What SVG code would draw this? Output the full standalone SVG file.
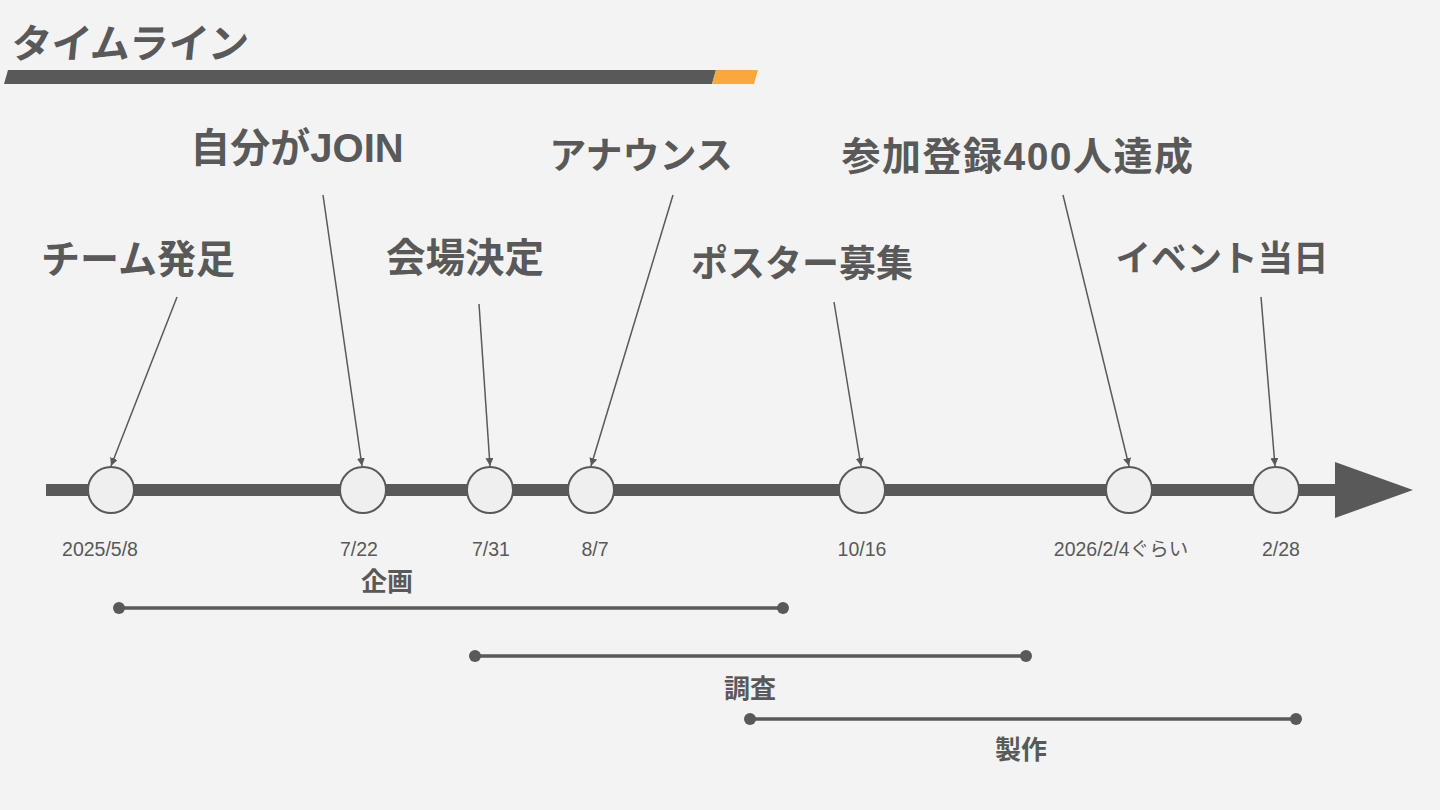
<svg xmlns="http://www.w3.org/2000/svg" width="1440" height="810" viewBox="0 0 1440 810">
<defs>
<marker id="ah" viewBox="0 0 10 10" refX="10" refY="5" markerWidth="8" markerHeight="8" markerUnits="userSpaceOnUse" orient="auto"><path d="M0,0 L10,5 L0,10 z" fill="#595959"/></marker>
<style>
.ev{font-family:"Liberation Sans","Noto Sans CJK JP",sans-serif;font-weight:bold;font-size:37px;fill:#595959;text-anchor:middle}
.dt{font-family:"Liberation Sans","Noto Sans CJK JP",sans-serif;font-size:19.5px;fill:#595959;text-anchor:middle}
.ph{font-family:"Liberation Sans","Noto Sans CJK JP",sans-serif;font-weight:bold;font-size:26px;fill:#595959;text-anchor:middle}
.node{fill:#efefef;stroke:#595959;stroke-width:2}
.pt{stroke:#595959;stroke-width:1.5;fill:none;marker-end:url(#ah)}
.rng{stroke:#595959;stroke-width:3.5}
.dot{fill:#595959}
</style>
</defs>
<rect width="1440" height="810" fill="#f3f3f3"/>
<g id="title">
<text x="10" y="58" font-family="'Liberation Sans','Noto Sans CJK JP',sans-serif" font-weight="bold" font-size="40" fill="#595959" transform="skewX(-6)" transform-origin="10 58">タイムライン</text>
<polygon points="8,70 716,70 712,84 4,84" fill="#595959"/>
<polygon points="716,70 758,70 754,84 712,84" fill="#f9a83e"/>
</g>
<g id="axis">
<rect x="46" y="484" width="1294" height="12" fill="#595959"/>
<polygon points="1335,462 1413,490 1335,518" fill="#595959"/>
</g>
<g id="connectors">
<line class="pt" x1="177" y1="297" x2="111" y2="466"/>
<line class="pt" x1="323" y1="195" x2="362" y2="466"/>
<line class="pt" x1="479" y1="304" x2="490" y2="466"/>
<line class="pt" x1="673" y1="195" x2="591" y2="466"/>
<line class="pt" x1="834" y1="302" x2="861" y2="466"/>
<line class="pt" x1="1063" y1="195" x2="1129" y2="466"/>
<line class="pt" x1="1261" y1="297" x2="1275" y2="466"/>
</g>
<g id="n1"><circle class="node" cx="111" cy="490" r="23"/><text class="ev" x="138" y="273" style="font-size:39px">チーム発足</text><text class="dt" x="100" y="556">2025/5/8</text></g>
<g id="n2"><circle class="node" cx="363" cy="490" r="23"/><text class="ev" x="297" y="162" style="font-size:40px">自分がJOIN</text><text class="dt" x="359" y="556">7/22</text></g>
<g id="n3"><circle class="node" cx="490" cy="490" r="23"/><text class="ev" x="465" y="272" style="font-size:39.5px">会場決定</text><text class="dt" x="491" y="556">7/31</text></g>
<g id="n4"><circle class="node" cx="591" cy="490" r="23"/><text class="ev" x="641" y="169">アナウンス</text><text class="dt" x="595" y="556">8/7</text></g>
<g id="n5"><circle class="node" cx="862" cy="490" r="23"/><text class="ev" x="802" y="277">ポスター募集</text><text class="dt" x="862" y="556">10/16</text></g>
<g id="n6"><circle class="node" cx="1129" cy="490" r="23"/><text class="ev" x="1018" y="170" style="font-size:39px" letter-spacing="1.5">参加登録400人達成</text><text class="dt" x="1121" y="556">2026/2/4ぐらい</text></g>
<g id="n7"><circle class="node" cx="1276" cy="490" r="23"/><text class="ev" x="1222" y="271" style="font-size:35.5px">イベント当日</text><text class="dt" x="1281" y="556">2/28</text></g>
<g id="p1"><line class="rng" x1="119" y1="608" x2="783" y2="608"/><circle class="dot" cx="119" cy="608" r="6"/><circle class="dot" cx="783" cy="608" r="6"/><text class="ph" x="387" y="591">企画</text></g>
<g id="p2"><line class="rng" x1="475" y1="656" x2="1026" y2="656"/><circle class="dot" cx="475" cy="656" r="6"/><circle class="dot" cx="1026" cy="656" r="6"/><text class="ph" x="750" y="698">調査</text></g>
<g id="p3"><line class="rng" x1="750" y1="719" x2="1296" y2="719"/><circle class="dot" cx="750" cy="719" r="6"/><circle class="dot" cx="1296" cy="719" r="6"/><text class="ph" x="1021" y="759">製作</text></g>
</svg>
